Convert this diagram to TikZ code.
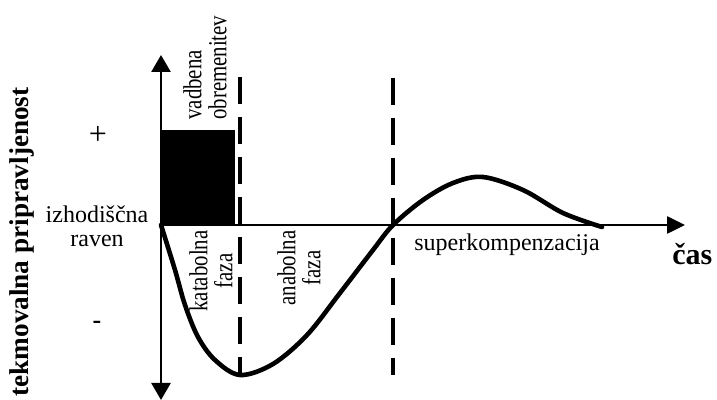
\documentclass[tikz,border=0pt]{standalone}
\usepackage{fontspec}
\setmainfont{Liberation Serif}
\newfontfamily\narrowserif[FakeStretch=0.8]{Liberation Serif}
\usetikzlibrary{arrows.meta,positioning}

\begin{document}
\begin{tikzpicture}[x=0.5pt, y=-0.5pt,
  every node/.style={font=\fontsize{12}{12}\selectfont, inner sep=0pt},
  axis/.style={line width=1.3pt},
  divider/.style={line width=2pt, dash pattern=on 13.5pt off 6.5pt},
  curve/.style={line width=2.3pt, line join=round, line cap=round},
  phase/.style={rotate=90, align=center, font=\narrowserif\fontsize{13}{12.5}\selectfont},
  heading/.style={font=\bfseries\fontsize{13.6}{16}\selectfont}
]
  \useasboundingbox (0,0) rectangle (717,400);
  \coordinate (O) at (161,225);
  % training load block
  \fill (O) rectangle (235,130);
  % axes
  \draw[axis, {Triangle[length=8.5pt,width=9.5pt]}-{Triangle[length=8.5pt,width=9.5pt]}]
    (161,400) -- (161,55);
  \draw[axis, -{Triangle[length=9pt,width=8.5pt]}] (O) -- (685,225);
  % phase borders
  \draw[divider] (240,77) -- (240,375);
  \draw[divider] (393,78) -- (393,375);
  % readiness curve
  \draw[curve] plot[smooth, tension=0.55] coordinates {
    (161,225) (175,270) (185,305) (198,337) (215,360) (240,375)
    (273,364) (307,335) (340,293) (373,250) (393,225) (423,200)
    (453,183) (483,177) (523,190) (563,213) (602,227)};
  % labels
  \node[heading, rotate=90] (ylab) at (22,242) {tekmovalna pripravljenost};
  \node[font=\fontsize{16}{16}\selectfont] (plus) at (98,135) {+};
  \node[font=\bfseries\fontsize{13}{13}\selectfont] (minus) at (97,325) {-};
  \node[align=center] (base) at (97,226) {izhodiščna\\raven};
  \node[phase, anchor=west, align=left] (load) at (205,120) {vadbena\\obremenitev};
  \node[phase] (cat) at (211,271) {katabolna\\faza};
  \node[phase] (anab) at (299,268) {anabolna\\faza};
  \node (sup) at (507,245) {superkompenzacija};
  \node[heading, font=\bfseries\fontsize{15}{16}\selectfont, anchor=base west]
    (time) at (672,265) {čas};
\end{tikzpicture}
\end{document}
